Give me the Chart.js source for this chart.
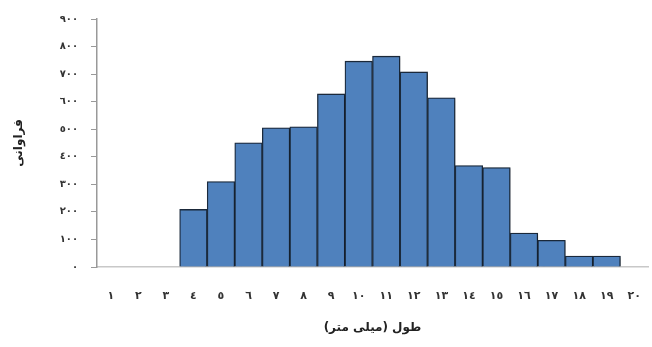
<!DOCTYPE html>
<html>
<head>
<meta charset="utf-8">
<script src="https://cdn.jsdelivr.net/npm/chart.js@4.4.1/dist/chart.umd.min.js"></script>
<style>
  html, body { margin: 0; padding: 0; background: #fff; }
  #wrap { width: 652px; height: 347px; position: relative; }
</style>
</head>
<body>
<div id="wrap"><canvas id="chart" width="652" height="347"></canvas></div>
<script>
// length classes (mm) and their frequencies
var classes = ['١', '٢', '٣', '٤', '٥', '٦', '٧', '٨', '٩', '١٠',
               '١١', '١٢', '١٣', '١٤', '١٥', '١٦', '١٧', '١٨', '١٩', '٢٠'];
var freq = [0, 0, 0, 209, 310, 451, 505, 509, 628, 747,
            765, 708, 614, 368, 361, 123, 97, 40, 40, 0];
var yTicks = ['٠', '١٠٠', '٢٠٠', '٣٠٠', '٤٠٠', '٥٠٠', '٦٠٠', '٧٠٠', '٨٠٠', '٩٠٠'];

var ctx = document.getElementById('chart').getContext('2d');

var shadow = {
  id: 'shadow',
  beforeDatasetsDraw: function(chart){
    var c = chart.ctx;
    c.save();
    c.shadowColor = 'rgba(0,0,0,0.35)';
    c.shadowBlur = 3;
    c.shadowOffsetX = 2;
    c.shadowOffsetY = 1;
  },
  afterDatasetsDraw: function(chart){
    chart.ctx.restore();
  }
};

new Chart(ctx, {
  type: 'bar',
  data: {
    labels: classes,
    datasets: [{
      data: freq,
      backgroundColor: '#4f81bd',
      borderColor: '#1c2b3d',
      borderWidth: 1.3,
      barPercentage: 1,
      categoryPercentage: 1
    }]
  },
  options: {
    responsive: false,
    animation: false,
    layout: { padding: { left: 12, right: 4, top: 12, bottom: 8 } },
    plugins: { legend: { display: false }, tooltip: { enabled: false } },
    scales: {
      x: {
        // invisible tick marks push the labels down without adding side padding
        grid: { drawOnChartArea: false, tickLength: 22, tickColor: 'rgba(0,0,0,0)' },
        border: { color: '#c8c8c8', width: 1.5 },
        ticks: { color: '#333', padding: 1, font: { family: 'DejaVu Sans', size: 11, weight: 'bold' } },
        title: { display: true, text: 'طول (میلی متر)', color: '#222', padding: { top: 10 },
                 font: { family: 'DejaVu Sans', size: 12, weight: 'bold' } },
        afterFit: function(s){ s.height = 72; }
      },
      y: {
        min: 0, max: 900,
        grid: { drawOnChartArea: false, color: '#999', tickLength: 6 },
        border: { color: '#999', width: 1.5 },
        ticks: {
          stepSize: 100, color: '#333', padding: 13,
          font: { family: 'DejaVu Sans', size: 10, weight: 'bold' },
          callback: function(v){ return yTicks[Math.round(v / 100)]; }
        },
        title: { display: true, text: 'فراوانی', color: '#222', padding: { top: 0, bottom: 8 },
                 font: { family: 'DejaVu Sans', size: 12, weight: 'bold' } },
        afterFit: function(s){ s.width = 85; }
      }
    }
  },
  plugins: [shadow]
});
</script>
</body>
</html>
